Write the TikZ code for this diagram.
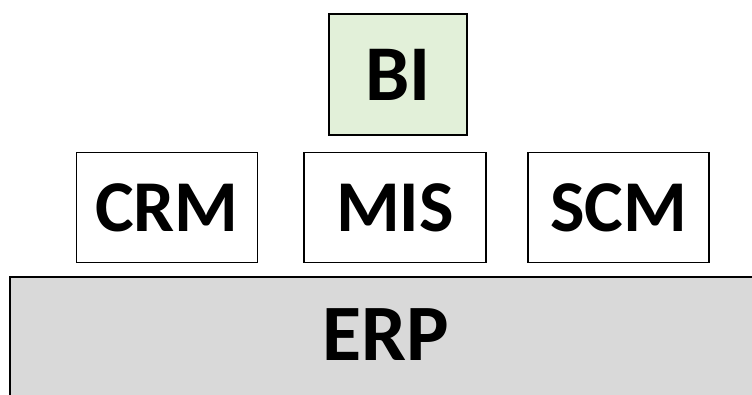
\documentclass[tikz,border=0pt]{standalone}
\usepackage{fontspec}
\setmainfont{Carlito}
\definecolor{biGreen}{HTML}{E2F0D9}
\definecolor{erpGrey}{HTML}{D9D9D9}
\begin{document}
\begin{tikzpicture}[x=1pt,y=-1pt,line join=miter]
  \tikzset{module/.style={draw=black,line width=1.8pt,fill=white,inner sep=0pt,
      font=\fontsize{73}{73}\selectfont\bfseries}}
  \useasboundingbox (0,0) rectangle (752,394);
  \clip (0,0) rectangle (752,394);
  % The ERP base runs past the right and bottom edges.
  \node[module,fill=erpGrey,line width=2.4pt,text depth=10pt,
    font=\fontsize{80}{80}\selectfont\bfseries,
    minimum width=752pt,minimum height=126pt] (erp) at (386,340) {ERP};
  % Middle row of modules sitting on the base.
  \node[module,minimum width=181pt,minimum height=110pt] (crm) at (167,207.5) {CRM};
  \node[module,minimum width=182pt,minimum height=110pt] (mis) at (395,207.5) {MIS};
  \node[module,minimum width=181pt,minimum height=110pt] (scm) at (618.5,207.5) {SCM};
  % BI on top of MIS.
  \node[module,fill=biGreen,font=\fontsize{79}{79}\selectfont\bfseries,
    minimum width=138pt,minimum height=121pt] (bi) at (398,74.5) {BI};
\end{tikzpicture}
\end{document}
